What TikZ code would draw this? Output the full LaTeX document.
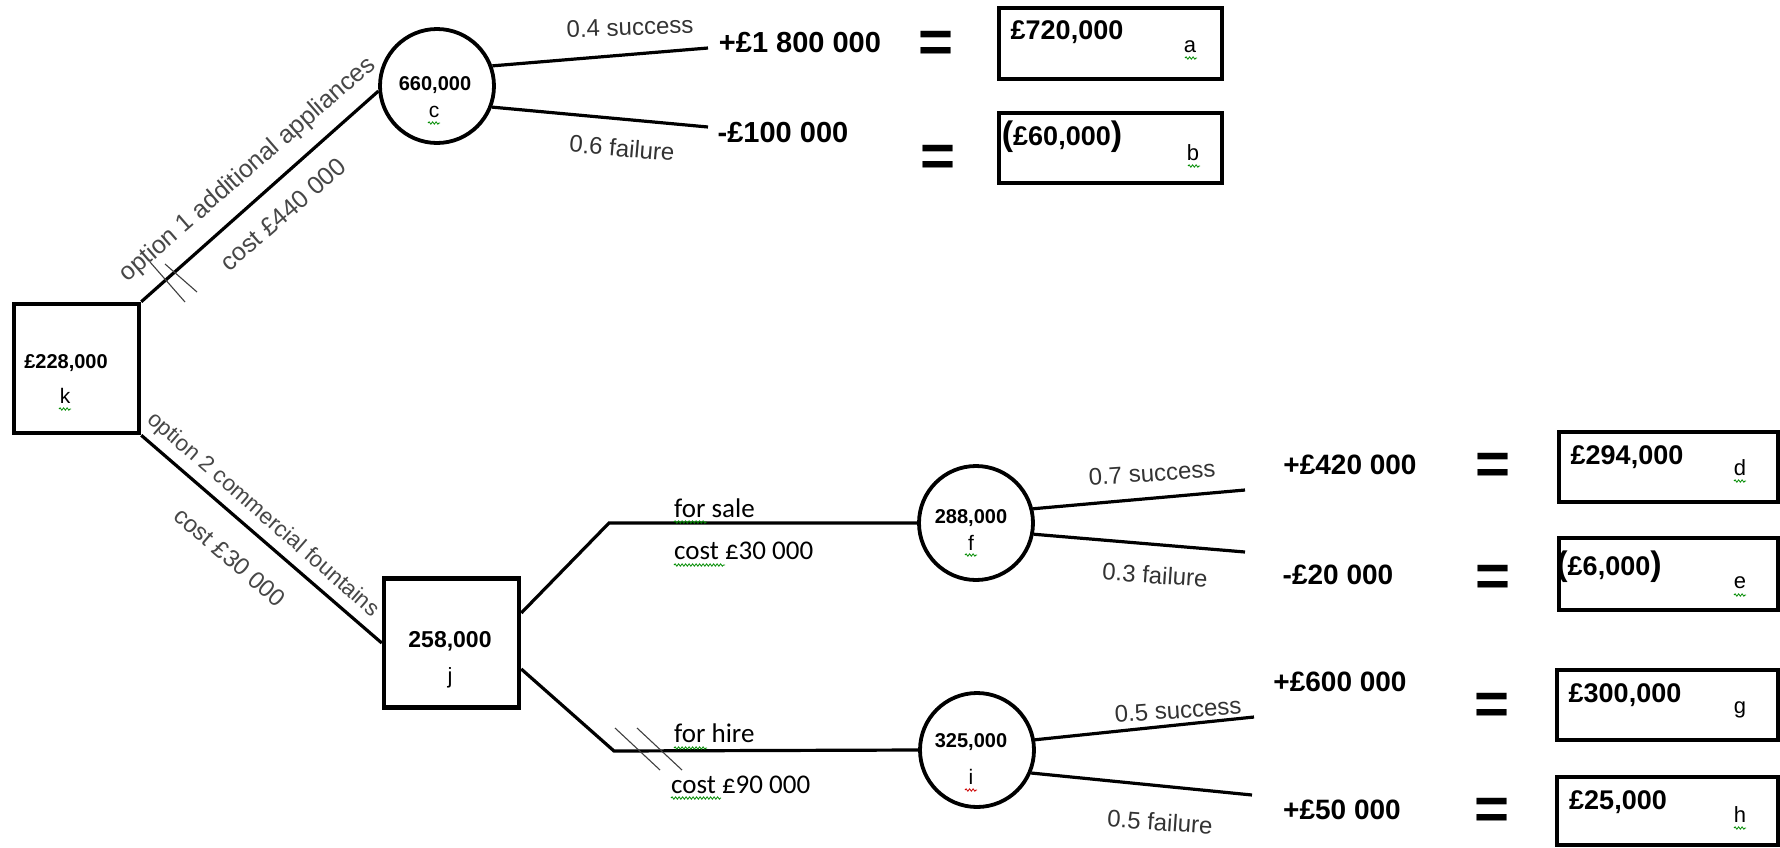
\documentclass[tikz,border=0pt]{standalone}
\usepackage{fontspec}
\setmainfont{Liberation Sans}
\newfontfamily\calib{Carlito}
\usetikzlibrary{calc,decorations.pathmorphing}
\tikzset{
  decbox/.style={draw, line width=4.5pt, inner sep=0pt},
  chance/.style={circle, draw, line width=3.8pt, minimum size=114pt, inner sep=0pt},
  resbox/.style={draw, line width=4.5pt, inner sep=0pt},
  branch/.style={line width=3.2pt},
  hashmark/.style={line width=1.1pt, black!75},
  prob/.style={font=\fontsize{24}{28}\selectfont, text=black!80, inner sep=0pt},
  payoff/.style={font=\fontsize{28}{32}\selectfont\bfseries, inner sep=0pt},
  eqsign/.style={font=\fontsize{60}{64}\selectfont\bfseries, inner sep=0pt},
  valtext/.style={font=\fontsize{27}{30}\selectfont\bfseries, inner sep=0pt},
  nodeval/.style={font=\fontsize{20}{24}\selectfont\bfseries, inner sep=0pt},
  letter/.style={font=\fontsize{22}{24}\selectfont, inner sep=0pt},
  optlabel/.style={font=\fontsize{25}{28}\selectfont, text=black!72, inner sep=0pt},
  calibtext/.style={font=\calib\fontsize{27}{30}\selectfont, inner sep=0pt, anchor=west},
  squiggle/.style={green!55!black, line width=0.8pt, decorate, decoration={snake, segment length=3.5pt, amplitude=1.2pt}},
  redsquiggle/.style={squiggle, red!80!black}
}
\newcommand{\bigparen}[1]{{\fontsize{34}{34}\selectfont #1}}
\begin{document}
\begin{tikzpicture}[x=1pt,y=-1pt]
\useasboundingbox[fill=white] (0,0) rectangle (1780,847);

% decision nodes
\node[decbox, minimum width=125pt, minimum height=129pt] (k) at (76.5,368.5) {};
\node[decbox, minimum width=135pt, minimum height=129pt] (j) at (451.5,643) {};
% chance nodes
\node[chance] (c) at (437,86) {};
\node[chance] (f) at (976,523) {};
\node[chance] (i) at (977,750) {};
% result boxes
\node[resbox, minimum width=223pt, minimum height=71pt] (a) at (1110.5,43.5) {};
\node[resbox, minimum width=223pt, minimum height=70pt] (b) at (1110.5,148) {};
\node[resbox, minimum width=219pt, minimum height=70pt] (d) at (1668.5,467) {};
\node[resbox, minimum width=219pt, minimum height=72pt] (e) at (1668.5,574) {};
\node[resbox, minimum width=221pt, minimum height=70pt] (g) at (1667.5,705) {};
\node[resbox, minimum width=221pt, minimum height=68pt] (h) at (1667.5,811) {};

% end points of outcome branches
\coordinate (endcs) at (708,48);
\coordinate (endcf) at (708,127);
\coordinate (endfs) at (1245,490);
\coordinate (endff) at (1245,552);
\coordinate (endis) at (1254,717);
\coordinate (endif) at (1252,795);
\coordinate (ju) at (609,523);
\coordinate (jl) at (614,751);

% branches
\draw[branch] (k.north east) -- (c.185);
\draw[branch] (k.south east) -- (j.west);
\draw[branch] ($(j.east)+(0,-30)$) -- (ju) -- (f.west);
\draw[branch] ($(j.east)+(0,26)$) -- (jl) -- (i.west);
\draw[branch] (c.20) -- (endcs);
\draw[branch] (c.-21) -- (endcf);
\draw[branch] (f.14) -- (endfs);
\draw[branch] (f.-11) -- (endff);
\draw[branch] (i.10) -- (endis);
\draw[branch] (i.-23) -- (endif);

% hash marks (rejected options)
\draw[hashmark] (150,262) -- (185,302);
\draw[hashmark] (165,264) -- (197,292);
\draw[hashmark] (615,728) -- (660,770);
\draw[hashmark] (637,728) -- (682,770);

% option labels
\node[optlabel, rotate=41] (lopt1) at (248,170) {option 1 additional appliances};
\node[optlabel, rotate=41] (lcost1) at (283,214) {cost £440 000};
\node[optlabel, rotate=-41, font=\fontsize{22.5}{26}\selectfont] (lopt2) at (263,515) {option 2 commercial fountains};
\node[optlabel, rotate=-41, font=\fontsize{24}{26}\selectfont] (lcost2) at (230,557) {cost £30 000};

% sale / hire labels
\node[calibtext] (lsale) at (674,508) {for sale};
\node[calibtext] (lsalecost) at (674,551) {cost £30 000};
\node[calibtext] (lhire) at (674,733) {for hire};
\node[calibtext] (lhirecost) at (671,785) {cost £90 000};

% probabilities
\node[prob, rotate=2] (p1) at (630,27) {0.4 success};
\node[prob, rotate=-5] (p2) at (622,148) {0.6 failure};
\node[prob, rotate=4] (p3) at (1152,473) {0.7 success};
\node[prob, rotate=-4] (p4) at (1155,575) {0.3 failure};
\node[prob, rotate=4] (p5) at (1178,710) {0.5 success};
\node[prob, rotate=-4] (p6) at (1160,822) {0.5 failure};

% payoffs
\node[payoff, font=\fontsize{29}{32}\selectfont\bfseries] (v1) at (800,43) {+£1 800 000};
\node[payoff, font=\fontsize{29}{32}\selectfont\bfseries] (v2) at (783,133) {-£100 000};
\node[payoff] (v3) at (1350,465) {+£420 000};
\node[payoff] (v4) at (1338,575) {-£20 000};
\node[payoff] (v5) at (1340,682) {+£600 000};
\node[payoff] (v6) at (1342,810) {+£50 000};

% equals signs
\node[eqsign] (q1) at (936,47) {=};
\node[eqsign] (q2) at (938,161) {=};
\node[eqsign] (q3) at (1493,469) {=};
\node[eqsign] (q4) at (1493,581) {=};
\node[eqsign] (q5) at (1492,709) {=};
\node[eqsign] (q6) at (1492,814) {=};

% result values
\node[valtext] (ra) at (1067,32) {£720,000};
\node[valtext] (rb) at (1062,137) {\bigparen{(}£60,000\bigparen{)}};
\node[valtext] (rd) at (1627,457) {£294,000};
\node[valtext] (re) at (1609,567) {\bigparen{(}£6,000\bigparen{)}};
\node[valtext] (rg) at (1625,695) {£300,000};
\node[valtext] (rh) at (1618,802) {£25,000};
\node[letter] (la) at (1190,47) {a};
\node[letter] (lb) at (1193,153) {b};
\node[letter] (ld) at (1740,468) {d};
\node[letter] (le) at (1740,583) {e};
\node[letter] (lg) at (1740,710) {g};
\node[letter] (lh) at (1740,815) {h};

% node values
\node[nodeval] (tk) at (66,363) {£228,000};
\node[letter, font=\fontsize{21}{24}\selectfont] (lk) at (65,396) {k};
\node[nodeval] (tc) at (435,85) {660,000};
\node[letter, font=\fontsize{21}{24}\selectfont] (lc) at (434,112) {c};
\node[nodeval, font=\fontsize{23}{26}\selectfont\bfseries] (tj) at (450,641) {258,000};
\node[letter] (lj) at (450,678) {j};
\node[nodeval] (tf) at (971,518) {288,000};
\node[letter, font=\fontsize{21}{24}\selectfont] (lf) at (971,543) {f};
\node[nodeval] (ti) at (971,742) {325,000};
\node[letter, font=\fontsize{21}{24}\selectfont] (li) at (971,777) {i};

% spell-check squiggles
\draw[squiggle] (1185,58) -- (1197,58);
\draw[squiggle] (1188,166) -- (1200,166);
\draw[squiggle] (1734,481) -- (1746,481);
\draw[squiggle] (1734,595) -- (1746,595);
\draw[squiggle] (1734,828) -- (1746,828);
\draw[squiggle] (59,409) -- (71,409);
\draw[squiggle] (428,123) -- (440,123);
\draw[squiggle] (965,555) -- (977,555);
\draw[redsquiggle] (965,790) -- (977,790);
\draw[squiggle] (674,522) -- (707,522);
\draw[squiggle] (674,565) -- (725,565);
\draw[squiggle] (674,748) -- (707,748);
\draw[squiggle] (671,798) -- (721,798);
\end{tikzpicture}
\end{document}
